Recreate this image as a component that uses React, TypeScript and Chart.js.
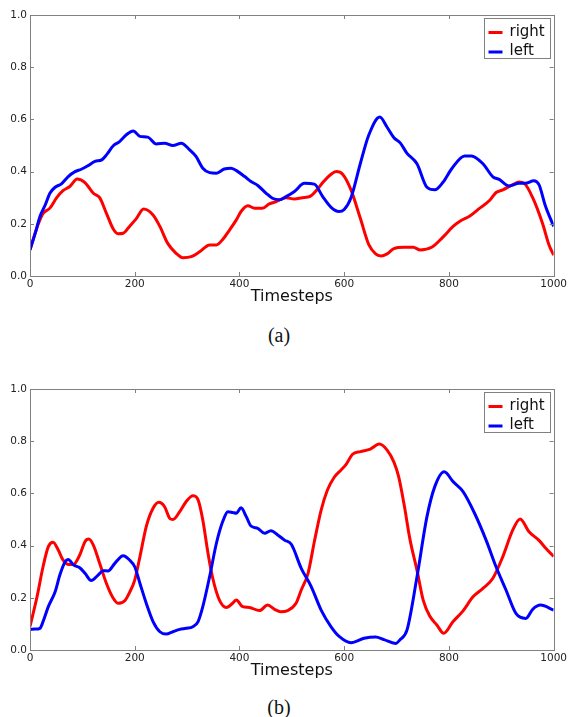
import React, { useEffect, useRef } from "react";
import { Chart, registerables } from "chart.js";

Chart.register(...registerables);

// ---- Data (timestep, value) ----
const rightA: [number, number][] = [
  [0, 0.1], [6, 0.14], [16, 0.2], [25, 0.24], [38, 0.26], [51, 0.3], [63, 0.327], [76, 0.343], [90, 0.372], [105, 0.358],
  [121, 0.317], [133, 0.3], [146, 0.24], [159, 0.18], [168, 0.162], [178, 0.164], [190, 0.19], [203, 0.22], [217, 0.257], [235, 0.234],
  [248, 0.19], [263, 0.125], [279, 0.087], [292, 0.07], [308, 0.074], [324, 0.093], [343, 0.119], [356, 0.119], [368, 0.14], [381, 0.176],
  [394, 0.215], [403, 0.247], [416, 0.269], [429, 0.26], [444, 0.26], [457, 0.276], [470, 0.285], [489, 0.3], [505, 0.295], [520, 0.3],
  [535, 0.305], [548, 0.33], [560, 0.36], [575, 0.39], [585, 0.4], [597, 0.39], [613, 0.33], [631, 0.22], [647, 0.12], [660, 0.085],
  [670, 0.077], [682, 0.085], [695, 0.105], [714, 0.11], [732, 0.11], [745, 0.1], [767, 0.11], [789, 0.15], [808, 0.19], [821, 0.21],
  [840, 0.23], [859, 0.26], [878, 0.29], [890, 0.32], [903, 0.33], [922, 0.35], [934, 0.36], [944, 0.355], [960, 0.3], [979, 0.2],
  [991, 0.12], [1000, 0.08],
];

const leftA: [number, number][] = [
  [0, 0.1], [10, 0.164], [19, 0.228], [29, 0.272], [38, 0.317], [48, 0.34], [60, 0.353], [73, 0.381], [86, 0.4], [98, 0.409],
  [111, 0.423], [124, 0.439], [137, 0.445], [146, 0.464], [159, 0.499], [171, 0.515], [184, 0.541], [197, 0.556], [210, 0.535], [225, 0.532],
  [241, 0.506], [257, 0.509], [273, 0.5], [289, 0.509], [305, 0.483], [317, 0.458], [330, 0.413], [343, 0.396], [356, 0.394], [371, 0.41],
  [384, 0.413], [397, 0.4], [410, 0.381], [422, 0.362], [435, 0.347], [451, 0.317], [463, 0.298], [476, 0.292], [489, 0.304], [505, 0.324],
  [524, 0.355], [543, 0.352], [559, 0.304], [575, 0.263], [590, 0.247], [600, 0.255], [613, 0.3], [631, 0.432], [647, 0.54], [668, 0.609],
  [682, 0.57], [695, 0.53], [707, 0.51], [720, 0.47], [739, 0.43], [758, 0.34], [773, 0.33], [789, 0.36], [805, 0.41], [830, 0.46],
  [843, 0.46], [865, 0.43], [884, 0.38], [896, 0.37], [915, 0.345], [934, 0.355], [946, 0.355], [962, 0.365], [972, 0.35], [984, 0.27],
  [1000, 0.19],
];

const rightB: [number, number][] = [
  [0, 0.09], [13, 0.2], [25, 0.32], [35, 0.396], [44, 0.413], [54, 0.383], [63, 0.345], [73, 0.328], [83, 0.328], [95, 0.364],
  [105, 0.415], [112, 0.425], [121, 0.402], [133, 0.332], [146, 0.255], [159, 0.198], [168, 0.179], [181, 0.189], [190, 0.22], [200, 0.268],
  [210, 0.358], [222, 0.473], [235, 0.543], [246, 0.566], [257, 0.549], [267, 0.504], [273, 0.5], [286, 0.53], [298, 0.568], [311, 0.591],
  [321, 0.575], [330, 0.498], [340, 0.37], [349, 0.275], [362, 0.19], [375, 0.163], [387, 0.179], [394, 0.192], [406, 0.166], [419, 0.163],
  [438, 0.151], [454, 0.172], [467, 0.156], [479, 0.147], [492, 0.151], [508, 0.179], [518, 0.23], [531, 0.294], [543, 0.415], [556, 0.536],
  [568, 0.613], [581, 0.662], [594, 0.69], [603, 0.709], [616, 0.75], [631, 0.76], [650, 0.77], [667, 0.789], [682, 0.766], [695, 0.72],
  [704, 0.664], [714, 0.562], [726, 0.42], [739, 0.306], [751, 0.19], [764, 0.128], [777, 0.096], [790, 0.064], [808, 0.109], [827, 0.15],
  [846, 0.204], [865, 0.236], [884, 0.275], [903, 0.358], [922, 0.46], [936, 0.502], [953, 0.453], [972, 0.42], [985, 0.39], [1000, 0.358],
];

const leftB: [number, number][] = [
  [0, 0.079], [10, 0.08], [19, 0.083], [25, 0.109], [35, 0.166], [48, 0.223], [57, 0.287], [67, 0.338], [73, 0.347], [83, 0.326],
  [95, 0.315], [105, 0.294], [117, 0.266], [130, 0.287], [140, 0.304], [149, 0.303], [162, 0.332], [178, 0.361], [190, 0.345], [200, 0.319],
  [210, 0.255], [222, 0.179], [235, 0.109], [248, 0.07], [260, 0.061], [273, 0.07], [286, 0.079], [298, 0.083], [311, 0.089], [321, 0.109],
  [330, 0.166], [343, 0.281], [356, 0.409], [368, 0.492], [378, 0.53], [387, 0.527], [394, 0.524], [403, 0.545], [413, 0.511], [422, 0.475],
  [435, 0.466], [448, 0.447], [460, 0.457], [473, 0.441], [486, 0.421], [499, 0.405], [518, 0.313], [537, 0.243], [556, 0.153], [575, 0.089],
  [591, 0.051], [613, 0.028], [638, 0.045], [660, 0.05], [676, 0.04], [698, 0.025], [707, 0.04], [720, 0.077], [739, 0.28], [758, 0.51],
  [773, 0.626], [791, 0.683], [808, 0.645], [827, 0.607], [849, 0.524], [871, 0.421], [890, 0.319], [909, 0.23], [928, 0.14], [947, 0.121],
  [960, 0.156], [975, 0.172], [1000, 0.153],
];

const seriesLabels = ["right", "left"];
const seriesColors = ["#ff0000", "#0000ff"];
const xTitle = "Timesteps";
const xMin = 0, xMax = 1000, xStep = 200;
const yMin = 0, yMax = 1, yStep = 0.2;

const FONT = "'DejaVu Sans', sans-serif";
const EDGE = "#808080";

const framePlugin = {
  id: "mplFrame",
  afterDatasetsDraw(chart: any) {
    const { ctx, chartArea: a, scales } = chart;
    const x = scales.x, y = scales.y;
    ctx.save();
    ctx.strokeStyle = EDGE;
    ctx.lineWidth = 1;
    const L = 4;
    ctx.beginPath();
    x.ticks.forEach((t: any) => {
      const px = Math.round(x.getPixelForValue(t.value)) + 0.5;
      ctx.moveTo(px, a.bottom); ctx.lineTo(px, a.bottom - L);
      ctx.moveTo(px, a.top); ctx.lineTo(px, a.top + L);
    });
    y.ticks.forEach((t: any) => {
      const py = Math.round(y.getPixelForValue(t.value)) + 0.5;
      ctx.moveTo(a.left, py); ctx.lineTo(a.left + L, py);
      ctx.moveTo(a.right, py); ctx.lineTo(a.right - L, py);
    });
    ctx.stroke();
    ctx.strokeRect(Math.round(a.left) + 0.5, Math.round(a.top) + 0.5, Math.round(a.right - a.left), Math.round(a.bottom - a.top));

    // legend box
    ctx.font = `15px ${FONT}`;
    const ds = chart.data.datasets;
    let tw = 0;
    ds.forEach((d: any) => { tw = Math.max(tw, ctx.measureText(d.label).width); });
    const w = Math.round(25 + tw + 6);
    const h = 40;
    const bx = Math.round(a.right - 4 - w) + 0.5;
    const by = Math.round(a.top + 3) + 0.5;
    ctx.fillStyle = "#ffffff";
    ctx.fillRect(bx, by, w, h);
    ctx.strokeStyle = EDGE;
    ctx.strokeRect(bx, by, w, h);
    ds.forEach((d: any, i: number) => {
      const rowBase = by + 17 + i * 19.5;
      ctx.strokeStyle = d.borderColor;
      ctx.lineWidth = 3;
      ctx.beginPath();
      ctx.moveTo(bx + 4, rowBase - 3);
      ctx.lineTo(bx + 18, rowBase - 3);
      ctx.stroke();
      ctx.fillStyle = "#111";
      ctx.textBaseline = "alphabetic";
      ctx.textAlign = "left";
      ctx.fillText(d.label, bx + 25, rowBase);
    });
    ctx.restore();
  },
};

function LineChart({ right, left }: { right: [number, number][]; left: [number, number][] }) {
  const ref = useRef<HTMLCanvasElement | null>(null);
  useEffect(() => {
    if (!ref.current) return;
    const series = [right, left];
    const chart = new Chart(ref.current, {
      type: "line",
      data: {
        datasets: series.map((s, i) => ({
          label: seriesLabels[i],
          data: s.map(([t, v]) => ({ x: t, y: v })),
          borderColor: seriesColors[i],
          backgroundColor: seriesColors[i],
          borderWidth: 3,
          pointRadius: 0,
          cubicInterpolationMode: "monotone" as const,
          fill: false,
          order: i === 0 ? 1 : 0,
        })),
      },
      options: {
        animation: false,
        responsive: false,
        devicePixelRatio: 1,
        events: [],
        layout: { padding: { top: 15, right: 14, bottom: 0, left: 0 } },
        plugins: { legend: { display: false }, tooltip: { enabled: false } },
        scales: {
          x: {
            type: "linear",
            min: xMin,
            max: xMax,
            grid: { display: false, drawTicks: false },
            border: { display: false },
            ticks: {
              stepSize: xStep,
              padding: 2,
              maxRotation: 0,
              autoSkip: false,
              color: "#222",
              font: { family: FONT, size: 10.5 },
              callback: (v: any) => String(Math.round(Number(v))),
            },
            title: {
              display: true,
              text: xTitle,
              color: "#111",
              font: { family: FONT, size: 16 },
              padding: { top: 0, bottom: 4 },
            },
            afterFit: (s: any) => { s.height = 34; },
          },
          y: {
            type: "linear",
            min: yMin,
            max: yMax,
            grid: { display: false, drawTicks: false },
            border: { display: false },
            ticks: {
              stepSize: yStep,
              padding: 3,
              color: "#222",
              font: { family: FONT, size: 10.5 },
              callback: (v: any) => Number(v).toFixed(1),
            },
            afterFit: (s: any) => { s.width = 30; },
          },
        },
      },
      plugins: [framePlugin],
    } as any);
    return () => chart.destroy();
  }, [right, left]);
  return <canvas ref={ref} width={569} height={310} style={{ width: 569, height: 310, display: "block" }} />;
}

const captionStyle: React.CSSProperties = {
  position: "absolute",
  left: 0,
  width: 558,
  textAlign: "center",
  fontFamily: "'Liberation Serif', 'Times New Roman', serif",
  fontSize: 20,
  lineHeight: "20px",
  color: "#111",
};

export default function App() {
  return (
    <div style={{ position: "absolute", left: 0, top: 0, width: 569, height: 717, background: "#fff", overflow: "hidden" }}>
      <div style={{ position: "absolute", left: 0, top: 0 }}>
        <LineChart right={rightA} left={leftA} />
      </div>
      <div style={{ ...captionStyle, top: 325 }}>(a)</div>
      <div style={{ position: "absolute", left: 0, top: 374 }}>
        <LineChart right={rightB} left={leftB} />
      </div>
      <div style={{ ...captionStyle, top: 697 }}>(b)</div>
    </div>
  );
}
